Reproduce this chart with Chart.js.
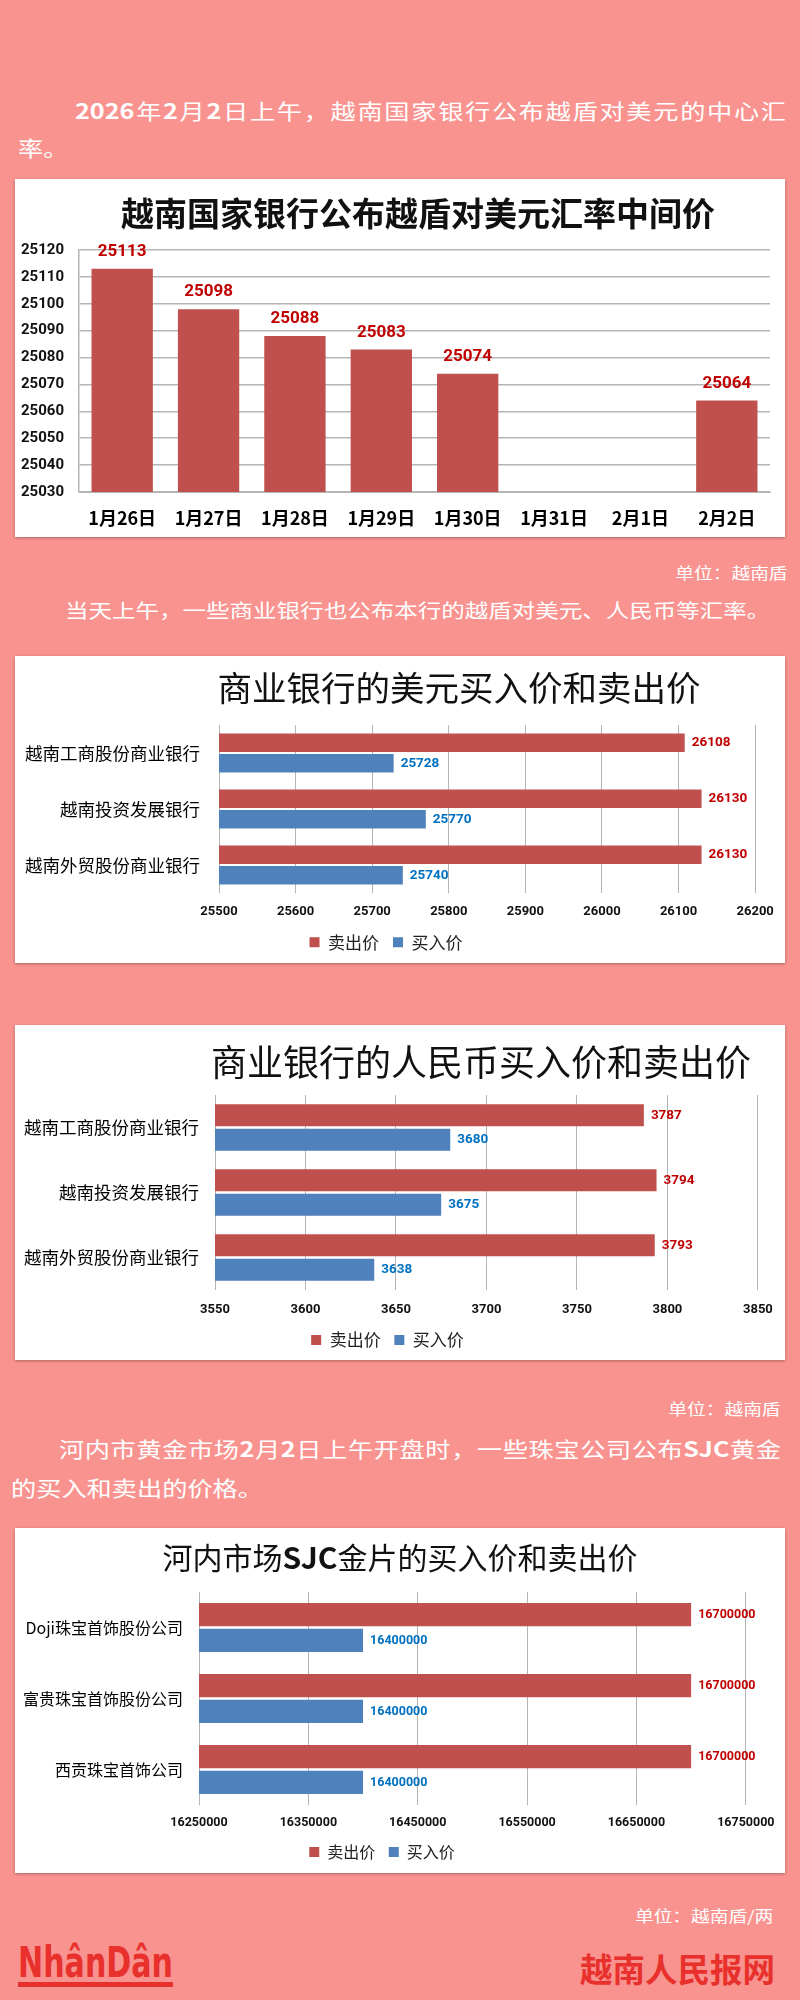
<!DOCTYPE html>
<html lang="zh">
<head>
<meta charset="utf-8">
<title>越盾汇率与黄金价格</title>
<script src="https://cdn.jsdelivr.net/npm/chart.js@4.4.1/dist/chart.umd.min.js"></script>
<style>
  html, body { margin: 0; padding: 0; }
  body {
    width: 800px; height: 2000px; position: relative; overflow: hidden;
    background: #f9938f;
    font-family: 'Noto Sans CJK SC', sans-serif;
  }
  .txt {
    position: absolute; color: #fff; line-height: 30px;
    transform: scaleX(1.2); transform-origin: 0 50%;
  }
  .txt b { font-weight: 700; }
  .fill { text-align: justify; text-align-last: justify; }
  .unit {
    position: absolute; color: #fff; font-size: 15.6px; line-height: 24px; white-space: nowrap;
    transform: scaleX(1.2); transform-origin: 100% 50%;
  }
  .box {
    position: absolute; left: 15px; width: 770px; background: #fff;
    box-shadow: 0 1px 3px rgba(0, 0, 0, 0.3);
  }
  .box canvas { position: absolute; left: 0; top: 0; }
  #logo {
    position: absolute; left: 18px; top: 1942px; line-height: 1; white-space: nowrap;
    font-family: 'Liberation Sans Narrow', 'DejaVu Sans Condensed', 'Liberation Sans', sans-serif;
    font-weight: 700; font-size: 42px; color: #e8302c; transform-origin: 0 0;
  }
  #logoBar { position: absolute; left: 18px; top: 1982px; width: 155px; height: 5px; background: #e8302c; }
  #site {
    position: absolute; left: 580px; top: 1948px; line-height: 40px; white-space: nowrap;
    font-size: 32.5px; font-weight: 700; color: #e8302c;
  }
</style>
</head>
<body>

<div class="txt fill" style="left:75px; top:95px; width:592.5px; font-size:21px;"><b>2026</b>年<b>2</b>月<b>2</b>日上午，越南国家银行公布越盾对美元的中心汇</div>
<div class="txt" style="left:18px; top:132px; font-size:21px;">率。</div>

<div class="box" style="top:179px; height:358px;"><canvas id="rateChart" width="770" height="358"></canvas></div>

<div class="unit" style="right:12px; top:560px;">单位：越南盾</div>
<div class="txt" style="left:65px; top:595px; font-size:19.6px; white-space:nowrap;">当天上午，一些商业银行也公布本行的越盾对美元、人民币等汇率。</div>

<div class="box" style="top:656px; height:307px;"><canvas id="usdChart" width="770" height="307"></canvas></div>
<div class="box" style="top:1025px; height:335px;"><canvas id="cnyChart" width="770" height="335"></canvas></div>

<div class="unit" style="right:19px; top:1396px;">单位：越南盾</div>
<div class="txt fill" style="left:59px; top:1433px; width:601.7px; font-size:21px;">河内市黄金市场<b>2</b>月<b>2</b>日上午开盘时，一些珠宝公司公布<b>SJC</b>黄金</div>
<div class="txt" style="left:11px; top:1472px; font-size:21px;">的买入和卖出的价格。</div>

<div class="box" style="top:1528px; height:345px;"><canvas id="goldChart" width="770" height="345"></canvas></div>

<div class="unit" style="right:27px; top:1903px;">单位：越南盾/两</div>
<div id="logo">NhânDân</div>
<div id="logoBar"></div>
<div id="site">越南人民报网</div>

<script>
// central rate, 8 days (no fixing on the weekend)
const dates = ['1月26日', '1月27日', '1月28日', '1月29日', '1月30日', '1月31日', '2月1日', '2月2日'];
const centralRate = [25113, 25098, 25088, 25083, 25074, null, null, 25064];
const rateTicks = [25030, 25040, 25050, 25060, 25070, 25080, 25090, 25100, 25110, 25120];

const seriesNames = ['卖出价', '买入价'];

const banks = ['越南工商股份商业银行', '越南投资发展银行', '越南外贸股份商业银行'];
const usdSell = [26108, 26130, 26130];
const usdBuy = [25728, 25770, 25740];
const usdTicks = [25500, 25600, 25700, 25800, 25900, 26000, 26100, 26200];

const cnySell = [3787, 3794, 3793];
const cnyBuy = [3680, 3675, 3638];
const cnyTicks = [3550, 3600, 3650, 3700, 3750, 3800, 3850];

const goldShops = ['Doji珠宝首饰股份公司', '富贵珠宝首饰股份公司', '西贡珠宝首饰公司'];
const goldSell = [16700000, 16700000, 16700000];
const goldBuy = [16400000, 16400000, 16400000];
const goldTicks = [16250000, 16350000, 16450000, 16550000, 16650000, 16750000];

const sellColor = '#c0504d';
const buyColor = '#4f81bd';
const sellText = '#c00000';
const buyText = '#0070c0';
const gridColor = '#b5b5b5';
const cjkFont = "'Noto Sans CJK SC', sans-serif";
const numFont = "Roboto, 'Liberation Sans', sans-serif";

Chart.defaults.font.family = cjkFont;
Chart.defaults.color = '#000';

// title drawn at a fixed spot in the white box; parts = [[text, weight], ...]
const boxTitle = {
    id: 'boxTitle',
    afterDraw(chart, args, opts) {
        const ctx = chart.ctx;
        ctx.save();
        ctx.fillStyle = opts.color;
        ctx.textBaseline = 'middle';
        ctx.textAlign = 'left';
        let total = 0;
        opts.parts.forEach(p => {
            ctx.font = `${p[1]} ${opts.size}px ${cjkFont}`;
            total += ctx.measureText(p[0]).width;
        });
        let x = opts.x - total / 2;
        opts.parts.forEach(p => {
            ctx.font = `${p[1]} ${opts.size}px ${cjkFont}`;
            ctx.fillText(p[0], x, opts.y);
            x += ctx.measureText(p[0]).width;
        });
        ctx.restore();
    }
};

// value labels at the end of each bar
const valueLabels = {
    id: 'valueLabels',
    afterDatasetsDraw(chart, args, opts) {
        const ctx = chart.ctx;
        const horizontal = chart.options.indexAxis === 'y';
        chart.data.datasets.forEach((ds, i) => {
            const meta = chart.getDatasetMeta(i);
            meta.data.forEach((bar, j) => {
                const v = ds.data[j];
                if (v === null || v === undefined) return;
                ctx.save();
                ctx.font = opts.font;
                ctx.fillStyle = opts.colors[i];
                ctx.textBaseline = 'middle';
                if (horizontal) {
                    ctx.textAlign = 'left';
                    ctx.fillText(String(v), bar.x + opts.offset, bar.y);
                } else {
                    ctx.textAlign = 'center';
                    ctx.fillText(String(v), bar.x, bar.y - opts.offset);
                }
                ctx.restore();
            });
        });
    }
};

function useTicks(list) {
    return scale => { scale.ticks = list.map(v => ({ value: v })); };
}

new Chart(document.getElementById('rateChart'), {
    type: 'bar',
    data: {
        labels: dates,
        datasets: [{ label: '中间价', data: centralRate, backgroundColor: sellColor }]
    },
    options: {
        responsive: false,
        animation: false,
        datasets: { bar: { categoryPercentage: 1, barPercentage: 0.71 } },
        layout: { padding: { top: 71, right: 15, bottom: 0, left: 0 } },
        scales: {
            x: {
                afterFit: s => { s.height = 45; },
                ticks: { font: { size: 18, weight: 'bold' }, color: '#000', padding: 15, maxRotation: 0, autoSkip: false },
                grid: { display: false, drawTicks: false },
                border: { color: gridColor }
            },
            y: {
                min: rateTicks[0],
                max: rateTicks[rateTicks.length - 1],
                afterBuildTicks: useTicks(rateTicks),
                afterFit: s => { s.width = 64; },
                ticks: { callback: v => String(v), font: { family: numFont, size: 15, weight: 'bold' }, color: '#111', padding: 15 },
                grid: { color: gridColor, lineWidth: 1.5, drawTicks: false },
                border: { color: gridColor, width: 1.5 }
            }
        },
        plugins: {
            legend: { display: false },
            tooltip: { enabled: false },
            boxTitle: { parts: [['越南国家银行公布越盾对美元汇率中间价', 'bold']], size: 33, x: 403, y: 34, color: '#111' },
            valueLabels: { font: `bold 17px ${numFont}`, colors: [sellText], offset: 17 }
        }
    },
    plugins: [boxTitle, valueLabels]
});

function pairChart(id, cats, sell, buy, ticks, o) {
    return new Chart(document.getElementById(id), {
        type: 'bar',
        data: {
            labels: cats,
            datasets: [
                { label: seriesNames[0], data: sell, backgroundColor: sellColor },
                { label: seriesNames[1], data: buy, backgroundColor: buyColor }
            ]
        },
        options: {
            indexAxis: 'y',
            responsive: false,
            animation: false,
            datasets: { bar: { categoryPercentage: o.catPct, barPercentage: 0.9 } },
            layout: { padding: { top: o.top, right: o.right, bottom: o.bottom, left: 0 } },
            scales: {
                x: {
                    min: ticks[0],
                    max: ticks[ticks.length - 1],
                    afterBuildTicks: useTicks(ticks),
                    afterFit: s => { s.height = o.xHeight; },
                    ticks: {
                        callback: v => String(v),
                        font: { family: numFont, size: o.tickSize, weight: 'bold' },
                        color: '#111', padding: o.tickPad, maxRotation: 0, autoSkip: false
                    },
                    grid: { color: gridColor, drawTicks: false },
                    border: { display: false }
                },
                y: {
                    afterFit: s => { s.width = o.yWidth; },
                    ticks: { font: { size: o.catSize }, color: '#000', padding: o.catPad },
                    grid: { display: false, drawTicks: false },
                    border: { display: false }
                }
            },
            plugins: {
                legend: {
                    position: 'bottom',
                    labels: { boxWidth: 10, boxHeight: 10, padding: o.legPad, color: '#222', font: { size: o.legSize } }
                },
                tooltip: { enabled: false },
                boxTitle: { parts: o.title, size: o.titleSize, x: o.titleX, y: o.titleY, color: '#111' },
                valueLabels: { font: `bold ${o.labelSize}px ${numFont}`, colors: [sellText, buyText], offset: 7 }
            }
        },
        plugins: [boxTitle, valueLabels]
    });
}

pairChart('usdChart', banks, usdSell, usdBuy, usdTicks, {
    title: [['商业银行的美元买入价和卖出价', 'normal']], titleSize: 34.5, titleX: 444, titleY: 32,
    top: 69, right: 28, bottom: 2.2, yWidth: 204, catSize: 17.5, catPad: 19,
    tickSize: 13, tickPad: 11.2, xHeight: 26.8, legSize: 17, legPad: 14, labelSize: 13.5, catPct: 0.73
});

pairChart('cnyChart', banks, cnySell, cnyBuy, cnyTicks, {
    title: [['商业银行的人民币买入价和卖出价', 'normal']], titleSize: 36, titleX: 466, titleY: 37,
    top: 70, right: 25, bottom: 1.5, yWidth: 200, catSize: 17.5, catPad: 16,
    tickSize: 13, tickPad: 12.2, xHeight: 27.8, legSize: 17, legPad: 13.7, labelSize: 13.5, catPct: 0.75
});

pairChart('goldChart', goldShops, goldSell, goldBuy, goldTicks, {
    title: [['河内市场', 'normal'], ['SJC', 'bold'], ['金片的买入价和卖出价', 'normal']],
    titleSize: 30, titleX: 385, titleY: 30,
    top: 64, right: 36, bottom: 3, yWidth: 184, catSize: 16, catPad: 16,
    tickSize: 12.5, tickPad: 10.5, xHeight: 25.5, legSize: 16, legPad: 13.5, labelSize: 12.5, catPct: 0.73
});

// squeeze the masthead word to the logo width
const logo = document.getElementById('logo');
const logoWidth = logo.getBoundingClientRect().width;
logo.style.transform = `scaleX(${155 / logoWidth})`;
</script>
</body>
</html>
